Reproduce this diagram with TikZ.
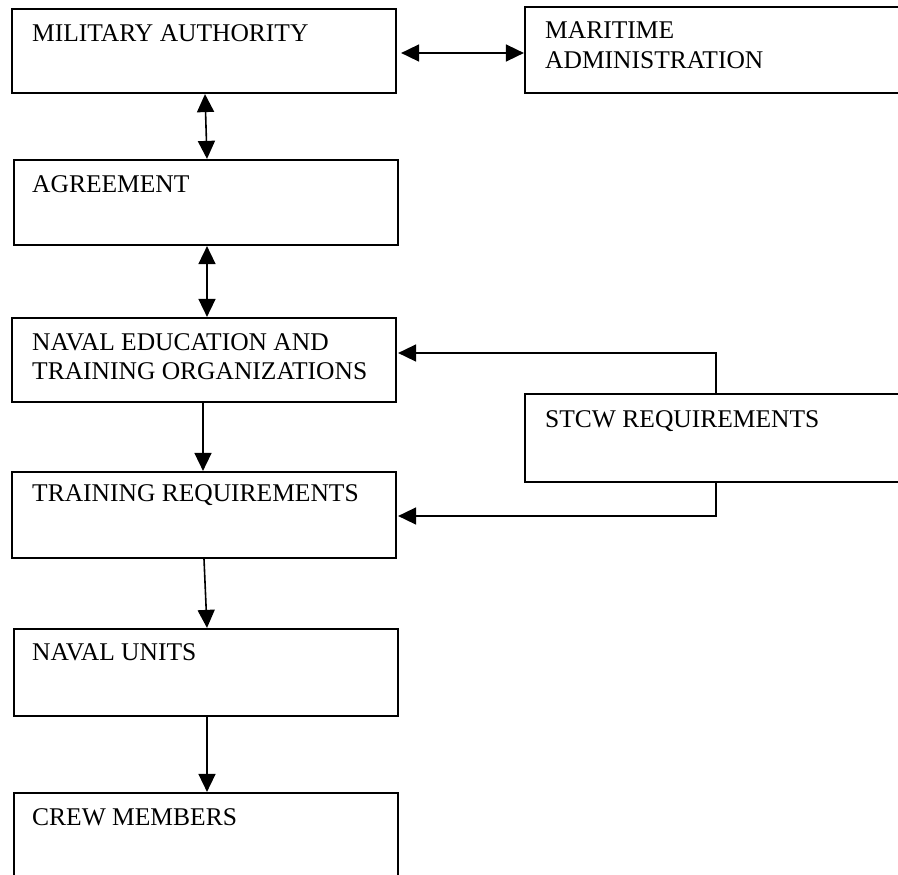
\documentclass[tikz,border=0pt]{standalone}
\usepackage{fontspec}
\setmainfont{Liberation Serif}
\usetikzlibrary{arrows.meta}
\begin{document}
\begin{tikzpicture}[x=1pt,y=-1pt,
  box/.style={draw, line width=2.2pt, rectangle, inner sep=0pt},
  lbl/.style={anchor=base west, inner sep=0pt, font=\fontsize{25.5}{30}\selectfont},
  arr/.style={line width=1.6pt, -{Triangle[length=18pt,width=17pt]}},
  dbl/.style={line width=1.6pt, {Triangle[length=18pt,width=17pt]}-{Triangle[length=18pt,width=17pt]}}]
\clip (0,0) rectangle (898,875);
\fill[white] (0,0) rectangle (898,875);
% boxes
\node[box, minimum width=384pt, minimum height=84pt] (ma) at (204,51) {};
\node[box, minimum width=435pt, minimum height=86pt] (mar) at (742.5,50) {};
\node[box, minimum width=384pt, minimum height=85pt] (agr) at (206,202.5) {};
\node[box, minimum width=384pt, minimum height=84pt] (nav) at (204,360) {};
\node[box, minimum width=384pt, minimum height=86pt] (tr) at (204,515) {};
\node[box, minimum width=435pt, minimum height=88pt] (stcw) at (742.5,438) {};
\node[box, minimum width=384pt, minimum height=87pt] (nu) at (206,672.5) {};
\node[box, minimum width=384pt, minimum height=107pt] (cm) at (206,846.5) {};
% texts
\node[lbl] (tma) at (32,42) {MILITARY AUTHORITY};
\node[lbl] (tmar1) at (545,39) {MARITIME};
\node[lbl] (tmar2) at (545,69) {ADMINISTRATION};
\node[lbl] (tagr) at (32,193) {AGREEMENT};
\node[lbl] (tnav1) at (32,350) {NAVAL EDUCATION AND};
\node[lbl] (tnav2) at (32,379) {TRAINING ORGANIZATIONS};
\node[lbl] (ttr) at (32,501) {TRAINING REQUIREMENTS};
\node[lbl] (tstcw) at (545,427) {STCW REQUIREMENTS};
\node[lbl] (tnu) at (32,660) {NAVAL UNITS};
\node[lbl] (tcm) at (32,825) {CREW MEMBERS};
% connectors
\draw[dbl] ([xshift=4pt,yshift=-2pt]ma.east) -- ([yshift=-3pt]mar.west);
\draw[dbl] ([xshift=1pt]ma.south) -- ([xshift=1pt]agr.north);
\draw[dbl] ([xshift=1pt]agr.south) -- ([xshift=3pt]nav.north);
\draw[arr] ([xshift=-1pt]nav.south) -- ([xshift=-1pt]tr.north);
\draw[arr] (tr.south) -- ([xshift=1pt]nu.north);
\draw[arr] ([xshift=1pt]nu.south) -- ([xshift=1pt]cm.north);
\draw[arr] ([xshift=-26.5pt]stcw.north) |- ([xshift=1pt,yshift=7pt]nav.east);
\draw[arr] ([xshift=-26.5pt]stcw.south) |- ([xshift=1pt,yshift=-1pt]tr.east);
\end{tikzpicture}
\end{document}
